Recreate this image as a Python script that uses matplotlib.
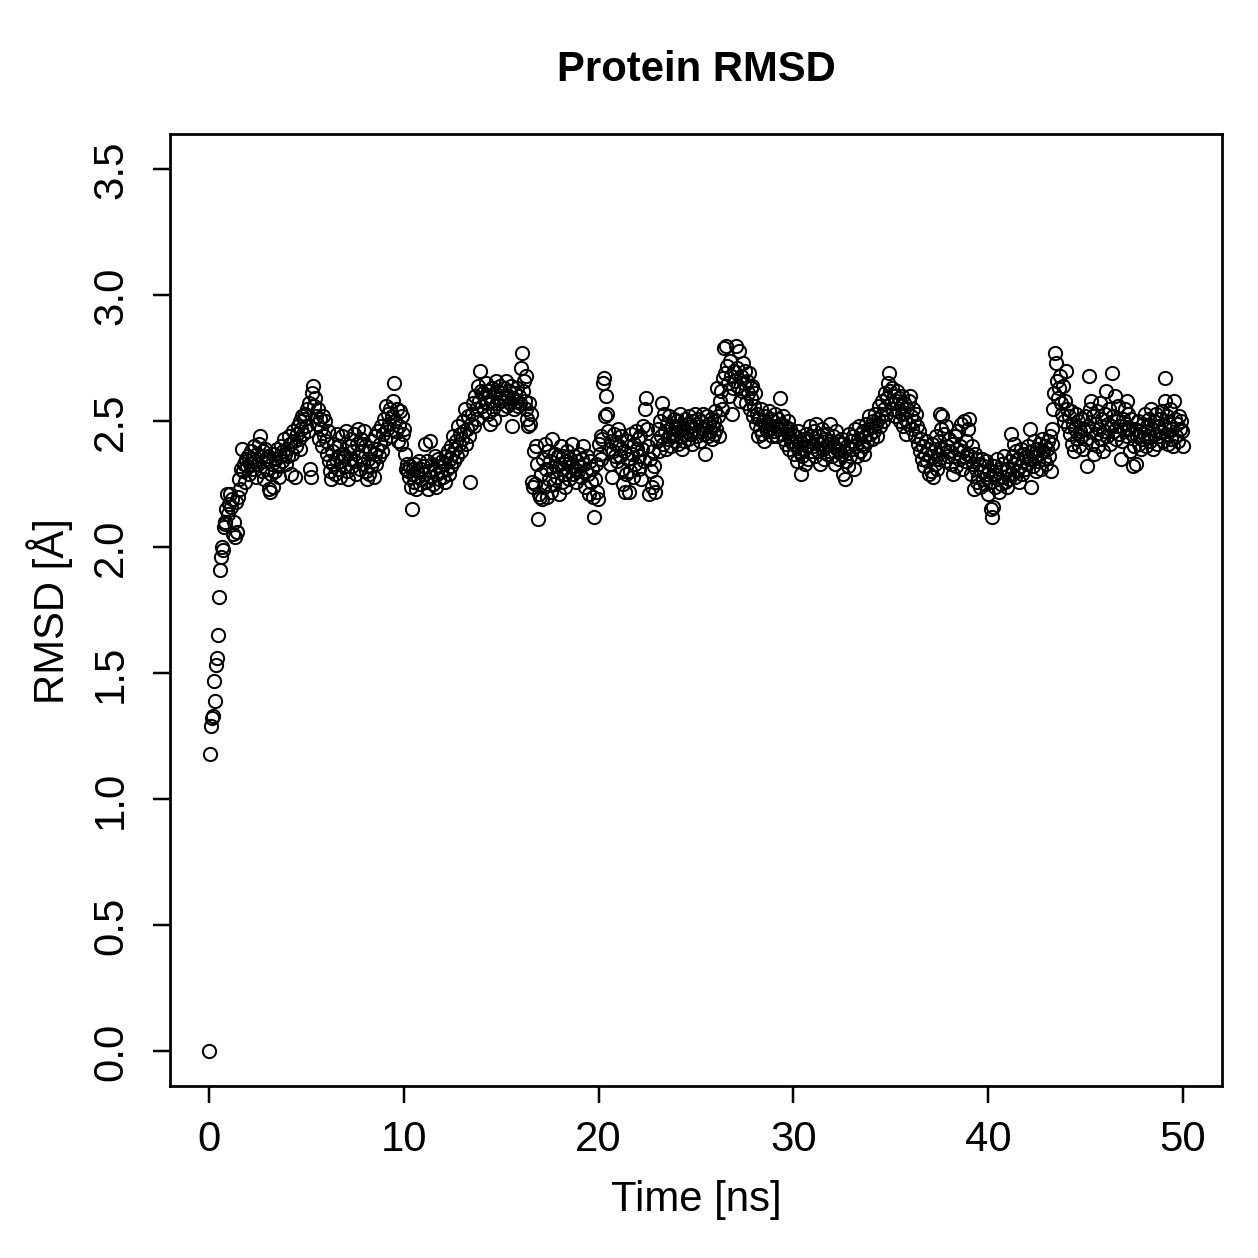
import numpy as np
import matplotlib
matplotlib.use('Agg')
import matplotlib.pyplot as plt

# RMSD values, one row per ns (20 frames per ns, 0.05 ns step)
rmsd = [
    0.00, 1.18, 1.29, 1.32, 1.33, 1.47, 1.39, 1.53, 1.56, 1.65, 1.80, 1.91, 1.96, 2.00, 1.99, 2.08, 2.09, 2.10, 2.15, 2.21,
    2.13, 2.17, 2.21, 2.16, 2.19, 2.05, 2.10, 2.04, 2.18, 2.06, 2.20, 2.27, 2.23, 2.31, 2.39, 2.30, 2.33, 2.26, 2.35, 2.32,
    2.36, 2.29, 2.33, 2.38, 2.31, 2.35, 2.40, 2.34, 2.28, 2.37, 2.33, 2.41, 2.44, 2.36, 2.30, 2.38, 2.34, 2.27, 2.39, 2.35,
    2.31, 2.36, 2.23, 2.22, 2.29, 2.33, 2.24, 2.37, 2.30, 2.35, 2.39, 2.32, 2.28, 2.36, 2.40, 2.34, 2.38, 2.43, 2.37, 2.33,
    2.39, 2.36, 2.44, 2.41, 2.29, 2.37, 2.46, 2.42, 2.28, 2.40, 2.45, 2.48, 2.43, 2.50, 2.39, 2.47, 2.52, 2.45, 2.51, 2.53,
    2.48, 2.55, 2.46, 2.57, 2.31, 2.28, 2.61, 2.64, 2.56, 2.59, 2.52, 2.49, 2.55, 2.43, 2.51, 2.47, 2.40, 2.52, 2.44, 2.50,
    2.42, 2.37, 2.46, 2.34, 2.30, 2.27, 2.38, 2.33, 2.41, 2.29, 2.35, 2.45, 2.31, 2.36, 2.40, 2.28, 2.34, 2.44, 2.37, 2.32,
    2.36, 2.46, 2.30, 2.27, 2.40, 2.35, 2.43, 2.32, 2.38, 2.45, 2.34, 2.29, 2.41, 2.47, 2.36, 2.31, 2.43, 2.38, 2.33, 2.46,
    2.40, 2.30, 2.27, 2.35, 2.29, 2.38, 2.32, 2.42, 2.34, 2.28, 2.37, 2.44, 2.33, 2.39, 2.46, 2.36, 2.41, 2.48, 2.38, 2.45,
    2.51, 2.43, 2.56, 2.47, 2.53, 2.49, 2.55, 2.44, 2.52, 2.58, 2.65, 2.50, 2.46, 2.55, 2.42, 2.48, 2.54, 2.41, 2.52, 2.45,
    2.47, 2.37, 2.31, 2.33, 2.30, 2.28, 2.32, 2.24, 2.15, 2.29, 2.31, 2.26, 2.33, 2.23, 2.30, 2.28, 2.34, 2.25, 2.31, 2.27,
    2.32, 2.29, 2.41, 2.26, 2.34, 2.23, 2.30, 2.42, 2.28, 2.33, 2.25, 2.31, 2.36, 2.24, 2.29, 2.35, 2.27, 2.32, 2.30, 2.34,
    2.28, 2.33, 2.26, 2.36, 2.31, 2.38, 2.29, 2.35, 2.40, 2.32, 2.37, 2.44, 2.34, 2.39, 2.42, 2.36, 2.48, 2.41, 2.45, 2.38,
    2.43, 2.50, 2.46, 2.55, 2.41, 2.47, 2.52, 2.44, 2.26, 2.49, 2.53, 2.57, 2.48, 2.60, 2.55, 2.51, 2.64, 2.58, 2.70, 2.62,
    2.56, 2.61, 2.54, 2.59, 2.65, 2.57, 2.62, 2.53, 2.60, 2.49, 2.58, 2.63, 2.55, 2.51, 2.61, 2.66, 2.57, 2.62, 2.59, 2.64,
    2.58, 2.61, 2.55, 2.63, 2.59, 2.66, 2.56, 2.60, 2.62, 2.57, 2.64, 2.48, 2.59, 2.55, 2.61, 2.58, 2.63, 2.56, 2.60, 2.57,
    2.71, 2.77, 2.62, 2.66, 2.58, 2.68, 2.55, 2.51, 2.48, 2.57, 2.49, 2.53, 2.26, 2.24, 2.38, 2.25, 2.40, 2.33, 2.11, 2.21,
    2.20, 2.29, 2.19, 2.35, 2.24, 2.41, 2.31, 2.20, 2.38, 2.27, 2.34, 2.22, 2.43, 2.30, 2.25, 2.37, 2.32, 2.28, 2.36, 2.21,
    2.33, 2.40, 2.26, 2.31, 2.36, 2.29, 2.24, 2.34, 2.38, 2.30, 2.27, 2.35, 2.32, 2.41, 2.29, 2.36, 2.31, 2.26, 2.34, 2.30,
    2.37, 2.32, 2.28, 2.35, 2.40, 2.33, 2.24, 2.30, 2.36, 2.29, 2.21, 2.34, 2.26, 2.31, 2.20, 2.12, 2.27, 2.33, 2.22, 2.19,
    2.41, 2.37, 2.44, 2.35, 2.43, 2.65, 2.67, 2.52, 2.60, 2.53, 2.46, 2.39, 2.33, 2.42, 2.28, 2.38, 2.45, 2.36, 2.41, 2.34,
    2.47, 2.40, 2.36, 2.44, 2.31, 2.25, 2.38, 2.22, 2.29, 2.42, 2.35, 2.22, 2.30, 2.45, 2.37, 2.28, 2.41, 2.33, 2.46, 2.39,
    2.43, 2.36, 2.31, 2.44, 2.27, 2.39, 2.48, 2.34, 2.55, 2.59, 2.47, 2.40, 2.21, 2.35, 2.30, 2.24, 2.38, 2.32, 2.22, 2.26,
    2.42, 2.47, 2.38, 2.50, 2.44, 2.57, 2.41, 2.53, 2.46, 2.39, 2.49, 2.43, 2.52, 2.45, 2.40, 2.48, 2.44, 2.51, 2.42, 2.47,
    2.45, 2.50, 2.41, 2.48, 2.53, 2.44, 2.39, 2.47, 2.42, 2.51, 2.46, 2.49, 2.43, 2.52, 2.45, 2.48, 2.41, 2.50, 2.47, 2.53,
    2.49, 2.44, 2.51, 2.46, 2.42, 2.50, 2.47, 2.53, 2.45, 2.37, 2.48, 2.52, 2.44, 2.49, 2.46, 2.51, 2.43, 2.48, 2.50, 2.45,
    2.54, 2.47, 2.63, 2.52, 2.44, 2.58, 2.62, 2.55, 2.67, 2.79, 2.69, 2.80, 2.72, 2.65, 2.60, 2.74, 2.68, 2.53, 2.63, 2.70,
    2.66, 2.80, 2.71, 2.64, 2.78, 2.58, 2.68, 2.62, 2.73, 2.65, 2.70, 2.57, 2.66, 2.61, 2.69, 2.55, 2.63, 2.59, 2.64, 2.52,
    2.56, 2.61, 2.49, 2.53, 2.44, 2.51, 2.47, 2.55, 2.45, 2.50, 2.42, 2.48, 2.52, 2.46, 2.49, 2.54, 2.47, 2.51, 2.44, 2.50,
    2.46, 2.53, 2.48, 2.44, 2.51, 2.47, 2.59, 2.49, 2.45, 2.52, 2.43, 2.48, 2.41, 2.46, 2.50, 2.44, 2.39, 2.47, 2.42, 2.45,
    2.41, 2.37, 2.44, 2.40, 2.34, 2.46, 2.38, 2.42, 2.29, 2.36, 2.43, 2.39, 2.33, 2.45, 2.40, 2.35, 2.42, 2.48, 2.38, 2.44,
    2.40, 2.46, 2.36, 2.49, 2.42, 2.38, 2.44, 2.33, 2.41, 2.47, 2.39, 2.35, 2.43, 2.40, 2.37, 2.45, 2.41, 2.38, 2.49, 2.42,
    2.36, 2.44, 2.40, 2.33, 2.46, 2.39, 2.42, 2.35, 2.41, 2.37, 2.43, 2.29, 2.38, 2.27, 2.34, 2.40, 2.32, 2.45, 2.36, 2.42,
    2.39, 2.44, 2.31, 2.47, 2.40, 2.36, 2.43, 2.48, 2.38, 2.45, 2.41, 2.46, 2.40, 2.37, 2.44, 2.49, 2.42, 2.47, 2.52, 2.45,
    2.48, 2.43, 2.50, 2.46, 2.53, 2.49, 2.44, 2.51, 2.56, 2.48, 2.52, 2.58, 2.50, 2.55, 2.61, 2.53, 2.59, 2.65, 2.69, 2.62,
    2.57, 2.63, 2.55, 2.60, 2.52, 2.58, 2.62, 2.54, 2.59, 2.50, 2.56, 2.60, 2.53, 2.48, 2.57, 2.51, 2.45, 2.55, 2.49, 2.58,
    2.60, 2.52, 2.47, 2.55, 2.50, 2.44, 2.53, 2.48, 2.41, 2.46, 2.38, 2.43, 2.35, 2.40, 2.32, 2.37, 2.42, 2.34, 2.39, 2.29,
    2.36, 2.30, 2.41, 2.28, 2.38, 2.33, 2.44, 2.31, 2.37, 2.42, 2.35, 2.53, 2.47, 2.52, 2.39, 2.45, 2.34, 2.48, 2.40, 2.36,
    2.43, 2.38, 2.33, 2.41, 2.29, 2.36, 2.44, 2.32, 2.39, 2.46, 2.35, 2.40, 2.49, 2.31, 2.38, 2.50, 2.34, 2.42, 2.37, 2.47,
    2.51, 2.36, 2.29, 2.40, 2.33, 2.23, 2.37, 2.31, 2.26, 2.35, 2.28, 2.33, 2.24, 2.30, 2.35, 2.27, 2.32, 2.25, 2.34, 2.29,
    2.21, 2.30, 2.26, 2.15, 2.12, 2.16, 2.32, 2.24, 2.29, 2.35, 2.27, 2.22, 2.31, 2.25, 2.33, 2.28, 2.36, 2.26, 2.30, 2.24,
    2.31, 2.27, 2.34, 2.45, 2.29, 2.36, 2.41, 2.28, 2.33, 2.38, 2.30, 2.35, 2.26, 2.32, 2.39, 2.29, 2.34, 2.37, 2.31, 2.36,
    2.33, 2.40, 2.35, 2.47, 2.24, 2.38, 2.32, 2.42, 2.36, 2.30, 2.39, 2.34, 2.41, 2.37, 2.31, 2.43, 2.38, 2.35, 2.40, 2.33,
    2.39, 2.42, 2.36, 2.44, 2.30, 2.41, 2.47, 2.55, 2.61, 2.77, 2.73, 2.66, 2.59, 2.63, 2.68, 2.57, 2.53, 2.64, 2.50, 2.58,
    2.70, 2.55, 2.48, 2.52, 2.45, 2.54, 2.41, 2.49, 2.38, 2.47, 2.53, 2.43, 2.50, 2.40, 2.46, 2.44, 2.51, 2.39, 2.47, 2.52,
    2.43, 2.32, 2.48, 2.68, 2.55, 2.46, 2.58, 2.41, 2.52, 2.37, 2.49, 2.45, 2.54, 2.40, 2.47, 2.57, 2.43, 2.51, 2.38, 2.46,
    2.53, 2.62, 2.44, 2.49, 2.55, 2.41, 2.48, 2.69, 2.52, 2.46, 2.60, 2.43, 2.50, 2.56, 2.45, 2.48, 2.35, 2.42, 2.51, 2.47,
    2.55, 2.49, 2.58, 2.44, 2.53, 2.47, 2.38, 2.51, 2.45, 2.32, 2.40, 2.47, 2.33, 2.44, 2.50, 2.41, 2.46, 2.39, 2.43, 2.49,
    2.45, 2.53, 2.40, 2.48, 2.44, 2.51, 2.42, 2.55, 2.47, 2.39, 2.50, 2.45, 2.53, 2.41, 2.48, 2.44, 2.51, 2.46, 2.54, 2.42,
    2.48, 2.58, 2.67, 2.45, 2.52, 2.41, 2.49, 2.55, 2.43, 2.47, 2.40, 2.58, 2.51, 2.44, 2.49, 2.42, 2.52, 2.47, 2.50, 2.46,
    2.40,
]
time_ns = np.linspace(0, 50, len(rmsd))

x_ticks = [0, 10, 20, 30, 40, 50]
y_ticks = [0.0, 0.5, 1.0, 1.5, 2.0, 2.5, 3.0, 3.5]

plt.rcParams['font.family'] = ['Liberation Sans', 'DejaVu Sans']

fig = plt.figure(figsize=(7, 7), dpi=179.857)
ax = fig.add_axes([0.135, 0.1366, 0.8356, 0.7562])

ax.plot(time_ns, rmsd, 'o', mfc='none', mec='black', ms=5.3, mew=0.8)

ax.set_xlim(-2, 52)
ax.set_ylim(-0.14, 3.64)
ax.set_xticks(x_ticks)
ax.set_xticklabels([str(t) for t in x_ticks])
ax.set_yticks(y_ticks)
ax.set_yticklabels([f'{t:.1f}' for t in y_ticks], rotation=90, va='center')
ax.tick_params(length=7, width=1.0, labelsize=16.8)
ax.tick_params(axis='x', pad=6.4)
ax.tick_params(axis='y', pad=8.6)
for s in ax.spines.values():
    s.set_linewidth(1.1)

ax.set_xlabel('Time [ns]', fontsize=16.8, va='center')
ax.xaxis.set_label_coords(0.5, -0.1187)
ax.set_ylabel('RMSD [Å]', fontsize=16.8, va='center')
ax.yaxis.set_label_coords(-0.114, 0.5)
ax.text(0.5, 1.0683, 'Protein RMSD', transform=ax.transAxes, ha='center', va='center',
        fontsize=16.8, fontweight='bold')

fig.savefig('out.png', dpi=179.857)
